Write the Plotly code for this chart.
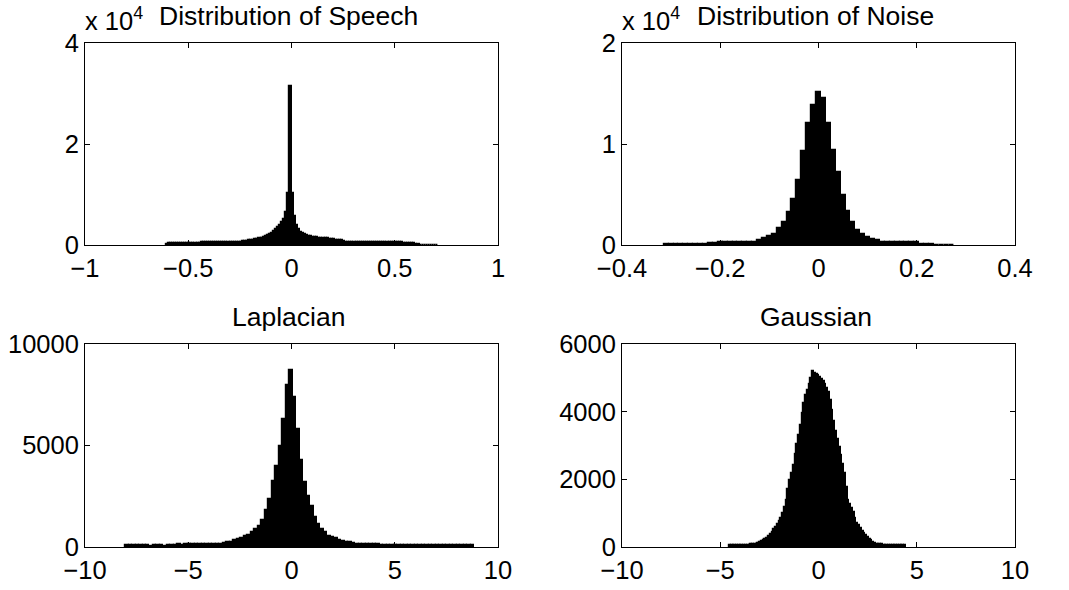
import plotly.graph_objects as go

# ---------------- data ----------------
# Speech histogram: bin width 0.01, first bin centre -0.605
speech_x0 = -0.605
speech_dx = 0.01
speech_counts = [
    200,
    440, 440, 450, 450, 455, 460, 460, 465, 470, 470, 475, 480, 480, 485, 490, 495, 500, 500, 505, 510,
    515, 520, 525, 530, 540, 545, 550, 560, 570, 580, 590, 600, 615, 630, 650, 670, 700, 740, 800,
    950, 1000, 1080, 1150, 1250, 1350, 1480, 1620, 1780, 1950, 2150, 2400, 2750, 3100, 3500, 3950,
    4500, 5100, 6600, 10200, 31400,
    10200, 5800, 4000, 3200, 2600, 2300, 2100, 1950, 1800, 1700, 1620, 1550, 1500, 1450, 1400, 1360,
    1330, 1300, 1250, 1150, 1100, 1080, 1050, 1020, 980,
    700, 690, 680, 670, 660, 650, 640, 630, 620, 610, 600, 590, 580, 575, 570, 565, 560, 555, 550,
    545, 540, 535, 530, 525, 520, 515, 510, 505, 500, 495, 490, 485, 480, 475, 470,
    250, 120, 100, 80, 60, 50, 40, 30, 25, 20, 15,
]

# Noise histogram: bin width 0.01, first bin centre -0.31
noise_x0 = -0.31
noise_dx = 0.01
noise_counts = [
    70, 75, 80, 85, 90, 95, 100, 110, 120, 150,
    240, 250, 255, 260, 265, 270, 280, 300, 330,
    500, 650, 900, 1090, 1650, 2300, 3260, 4600, 6400, 9300, 12100, 13900,
    15100,
    14560, 12100, 9400, 7180, 5000, 3400, 2300, 1480, 1050, 820, 600, 520,
    330, 300, 280, 270, 265, 260, 255, 250,
    120, 90, 70, 50, 40, 30, 20,
]

# Laplacian histogram: 100 bins, width 0.169, first bin centre -7.9755
lap_x0 = -7.9755
lap_dx = 0.169
lap_counts = [
    110, 115, 110, 120, 115, 110, 120, 60, 115, 120, 110, 55, 115, 120, 120, 125, 120, 125, 125, 130,
    130, 130, 135, 140, 140, 145, 150,
    170, 200, 230, 270, 330, 390, 450, 520, 600, 720, 870, 1050, 1350, 1800, 2350, 3250, 4000, 5000,
    6300, 8000, 8730, 7400, 5800, 4300, 3200, 2500, 2000, 1500, 1150, 900, 720, 560, 470, 420, 360,
    310, 270, 230, 190, 150,
    140, 135, 130, 130, 125, 125, 120, 120, 120, 115, 115, 115, 115, 110, 110, 110, 110, 110, 105,
    105, 105, 105, 105, 100, 100, 100, 100, 100, 100, 100, 100, 100, 100,
]

# Gaussian histogram: 100 bins, width 0.09, first bin centre -4.505
gau_x0 = -4.505
gau_dx = 0.09
gau_counts = [
    50, 55, 55, 60, 60, 60, 65, 65, 65, 70, 70, 70, 75, 80, 85, 95, 105, 140, 170, 205,
    240, 275, 320, 390, 455, 525, 600, 670, 760, 870, 1010, 1180, 1380, 1720, 1980, 2190, 2420, 2740, 3030, 3310,
    3600, 3960, 4260, 4480, 4650, 4830, 5000, 5190, 5130, 5110, 5090, 5030, 4960, 4900, 4810, 4700, 4570, 4350, 4060, 3720,
    3430, 3200, 2970, 2710, 2460, 2190, 1780, 1390, 1280, 1160, 1020, 870, 720, 640, 550, 470, 410, 360, 310, 250,
    200, 150, 105, 90, 80, 75, 75, 70, 70, 70, 65, 65, 65, 60, 60, 60, 60, 55, 55, 50,
]

titles = ["Distribution of Speech", "Distribution of Noise", "Laplacian", "Gaussian"]

speech_xticks = [-1, -0.5, 0, 0.5, 1]
speech_xlabels = ["\u22121", "\u22120.5", "0", "0.5", "1"]
noise_xticks = [-0.4, -0.2, 0, 0.2, 0.4]
noise_xlabels = ["\u22120.4", "\u22120.2", "0", "0.2", "0.4"]
wide_xticks = [-10, -5, 0, 5, 10]
wide_xlabels = ["\u221210", "\u22125", "0", "5", "10"]

speech_yticks = [0, 20000, 40000]
speech_ylabels = ["0", "2", "4"]
noise_yticks = [0, 10000, 20000]
noise_ylabels = ["0", "1", "2"]
lap_yticks = [0, 5000, 10000]
lap_ylabels = ["0", "5000", "10000"]
gau_yticks = [0, 2000, 4000, 6000]
gau_ylabels = ["0", "2000", "4000", "6000"]

# ---------------- figure ----------------
W, H = 1069, 590
FONT = "Liberation Sans, Arial, Helvetica, sans-serif"
TICK_SIZE = 25.5
TITLE_SIZE = 26.5

fig = go.Figure()

def add_hist(x0, dx, counts, xa, ya):
    fig.add_trace(go.Bar(
        x0=x0, dx=dx, y=counts, xaxis=xa, yaxis=ya,
        marker=dict(color="black", line=dict(color="black", width=1.2)),
        width=dx, showlegend=False, hoverinfo="skip",
    ))

add_hist(speech_x0, speech_dx, speech_counts, "x", "y")
add_hist(noise_x0, noise_dx, noise_counts, "x2", "y2")
add_hist(lap_x0, lap_dx, lap_counts, "x3", "y3")
add_hist(gau_x0, gau_dx, gau_counts, "x4", "y4")

# plot boxes in pixels (left, right, top, bottom)
boxes = [
    (85, 498, 43, 245),
    (622, 1015, 43, 245),
    (85, 498, 344, 547),
    (622, 1015, 344, 547),
]

xcfg = [
    ([-1, 1], speech_xticks, speech_xlabels),
    ([-0.4, 0.4], noise_xticks, noise_xlabels),
    ([-10, 10], wide_xticks, wide_xlabels),
    ([-10, 10], wide_xticks, wide_xlabels),
]
ycfg = [
    ([0, 40000], speech_yticks, speech_ylabels),
    ([0, 20000], noise_yticks, noise_ylabels),
    ([0, 10000], lap_yticks, lap_ylabels),
    ([0, 6000], gau_yticks, gau_ylabels),
]

common = dict(
    showline=True, linecolor="black", linewidth=1, mirror="ticks",
    ticks="inside", ticklen=5, tickwidth=1, tickcolor="black",
    showgrid=False, zeroline=False, automargin=False,
    tickfont=dict(family=FONT, size=TICK_SIZE, color="black"),
    fixedrange=True,
)

layout = {}
for i, (box, xc, yc) in enumerate(zip(boxes, xcfg, ycfg)):
    l, r, t, b = box
    n = "" if i == 0 else str(i + 1)
    layout["xaxis" + n] = dict(
        domain=[l / W, r / W], range=xc[0], tickmode="array",
        tickvals=xc[1], ticktext=xc[2], anchor="y" + n,
        ticklabelstandoff=0, **common,
    )
    layout["yaxis" + n] = dict(
        domain=[1 - b / H, 1 - t / H], range=yc[0], tickmode="array",
        tickvals=yc[1], ticktext=yc[2], anchor="x" + n,
        ticklabelstandoff=0, **common,
    )

annotations = []
for i, (box, title) in enumerate(zip(boxes, titles)):
    l, r, t, b = box
    annotations.append(dict(
        text=title, xref="paper", yref="paper",
        x=((l + r) / 2 - 3) / W, y=1 - (t - 10) / H,
        xanchor="center", yanchor="bottom", showarrow=False,
        font=dict(family=FONT, size=TITLE_SIZE, color="black"),
    ))

# exponent multipliers for the top row
for box in boxes[:2]:
    l, r, t, b = box
    annotations.append(dict(
        text="x 10<sup>4</sup>", xref="paper", yref="paper",
        x=(l - 2) / W, y=1 - (t - 6) / H,
        xanchor="left", yanchor="bottom", showarrow=False,
        font=dict(family=FONT, size=TICK_SIZE, color="black"),
    ))

fig.update_layout(
    template="none",
    width=W, height=H, autosize=False,
    margin=dict(l=0, r=0, t=0, b=0, pad=0),
    paper_bgcolor="white", plot_bgcolor="white",
    bargap=0, barmode="overlay",
    font=dict(family=FONT, size=TICK_SIZE, color="black"),
    annotations=annotations,
    **layout,
)

fig.write_html("out.html", config={"displayModeBar": False})
